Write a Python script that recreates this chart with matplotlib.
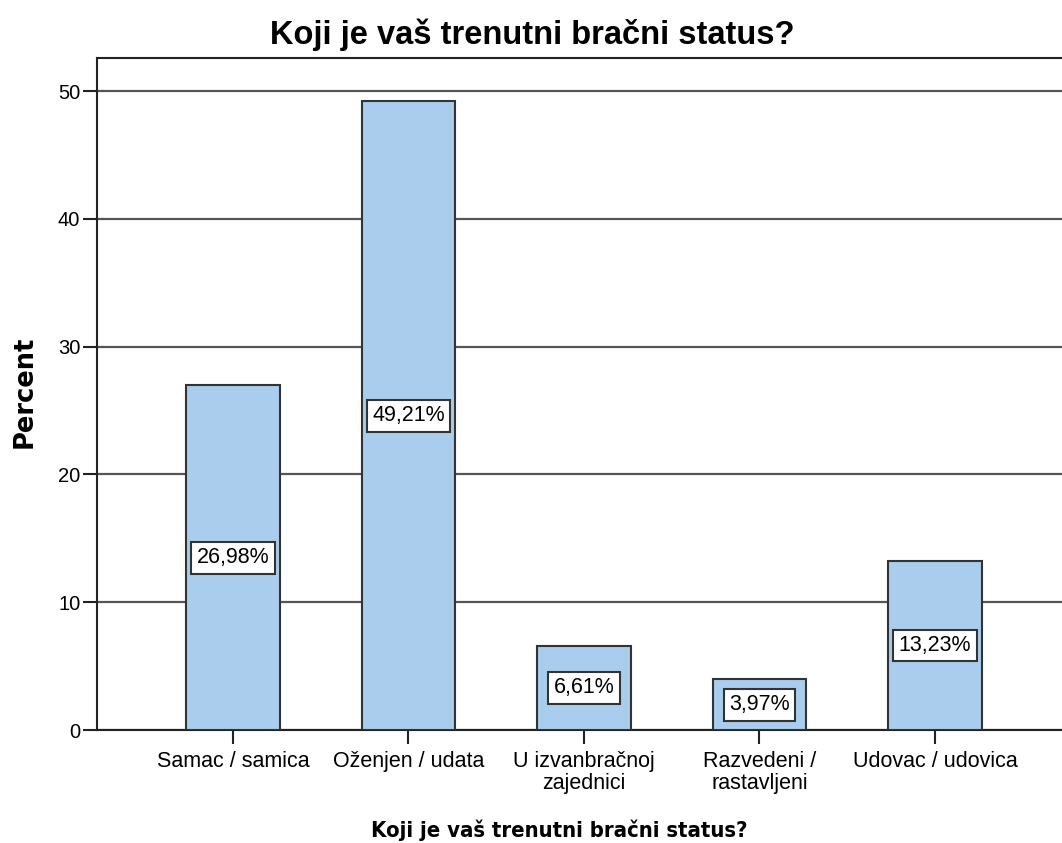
import matplotlib
matplotlib.use("Agg")
import matplotlib.pyplot as plt

categories = ["Samac / samica", "Oženjen / udata", "U izvanbračnoj\nzajednici",
              "Razvedeni /\nrastavljeni", "Udovac / udovica"]
percent = [26.98, 49.21, 6.61, 3.97, 13.23]
yticks = [0, 10, 20, 30, 40, 50]
title = "Koji je vaš trenutni bračni status?"

W, H = 1062, 843
fig = plt.figure(figsize=(W/100, H/100), dpi=100)
ax = fig.add_axes([97/W, 113/H, 1 - 97/W, (730-58)/H])

x = list(range(len(categories)))
ax.bar(x, percent, width=0.535, color="#aacdee", edgecolor="#333333",
       linewidth=1.5, zorder=3)
for xi, v in zip(x, percent):
    ax.text(xi, v/2, f"{v:.2f}%".replace(".", ","), ha="center", va="center",
            fontsize=15.5, family="Liberation Sans", zorder=4,
            bbox=dict(boxstyle="square,pad=0.25", facecolor="white",
                      edgecolor="#333333", linewidth=1.5))

ax.set_xlim(-0.775, 4.724)
ax.set_ylim(0, 52.6)
ax.set_yticks(yticks)
ax.set_xticks(x)
ax.set_xticklabels(categories, family="Liberation Sans", fontsize=15.5, linespacing=1.05)
ax.set_yticklabels([str(t) for t in yticks], family="Liberation Sans", fontsize=14.5)
ax.tick_params(axis="y", length=10, width=1.5, color="#222222", pad=2)
ax.tick_params(axis="x", length=10, width=1.5, color="#222222", pad=5)
ax.yaxis.grid(True, color="#555555", linewidth=1.6, zorder=0)
ax.set_axisbelow(True)
for s in ["left", "bottom", "top"]:
    ax.spines[s].set_linewidth(1.5)
    ax.spines[s].set_color("#222222")
ax.spines["right"].set_visible(False)

fig.text(532/W, 1 - 35/H, title, family="Liberation Sans", fontweight="bold",
         fontsize=23.5, ha="center", va="center")
fig.text(559/W, 1 - 830/H, title, family="DejaVu Sans", fontweight="bold",
         stretch="condensed", fontsize=15.8, ha="center", va="center")
fig.text(25/W, 1 - 392/H, "Percent", family="DejaVu Sans", fontweight="bold",
         fontsize=18.5, rotation=90, ha="center", va="center")

fig.savefig("out.png", dpi=100)
